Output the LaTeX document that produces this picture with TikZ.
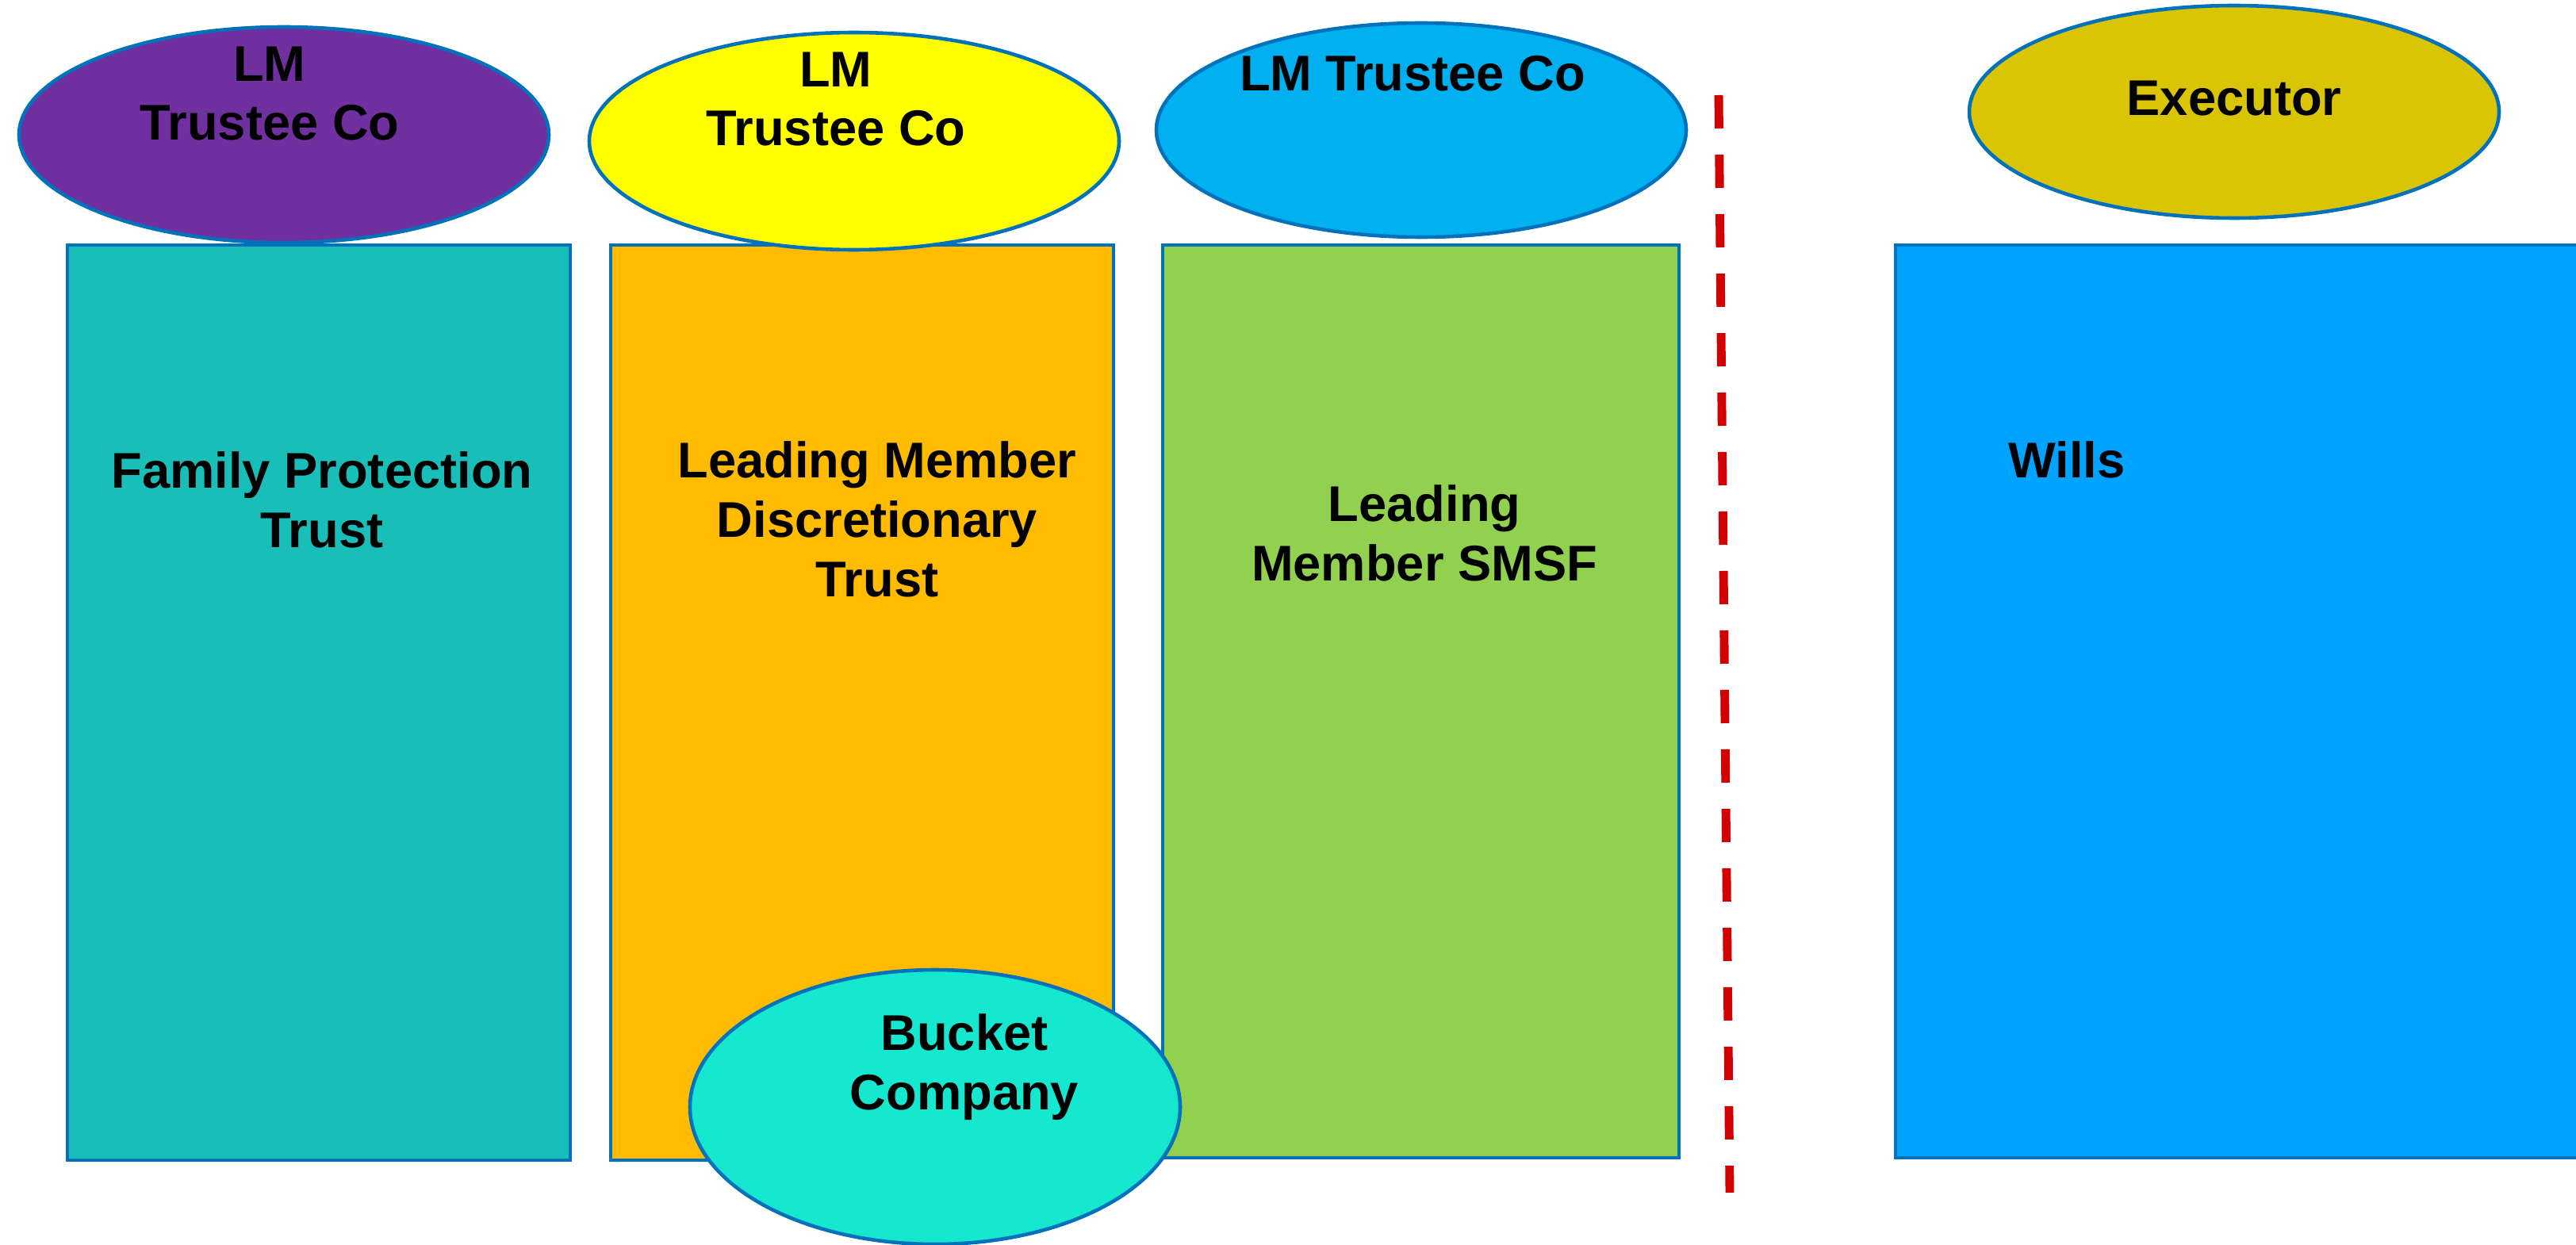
\documentclass[tikz,border=0pt]{standalone}
\usepackage{fontspec}
\setmainfont{Liberation Sans}
\usepackage{tikz}
\usetikzlibrary{shapes.geometric, positioning, calc}

\definecolor{edgeblue}{RGB}{0,114,188}
\definecolor{coPurple}{RGB}{112,48,160}
\definecolor{coYellow}{RGB}{255,255,0}
\definecolor{coSky}{RGB}{0,176,240}
\definecolor{coGold}{RGB}{218,196,6}
\definecolor{coAqua}{RGB}{22,232,208}
\definecolor{fpTeal}{RGB}{25,190,184}
\definecolor{dtOrange}{RGB}{255,187,0}
\definecolor{smsfGreen}{RGB}{146,208,80}
\definecolor{willBlue}{RGB}{0,163,255}
\definecolor{cutRed}{RGB}{210,0,0}

\begin{document}
\begin{tikzpicture}[
        box/.style={draw=edgeblue, line width=1.1pt, anchor=south west, inner sep=0pt},
        co/.style={ellipse, draw=edgeblue, line width=1.3pt, inner sep=0pt},
        lbl/.style={font=\fontsize{18}{21.3}\selectfont\bfseries, align=center, inner sep=0pt}
    ]
        \useasboundingbox (0,0) rectangle (32.48,15.69);

        % the four structures
        \node[box, fill=fpTeal, minimum width=6.34cm, minimum height=11.54cm] (FPT) at (0.83,1.04) {};
        \node[box, fill=dtOrange, minimum width=6.34cm, minimum height=11.54cm] (DT) at (7.68,1.04) {};
        \node[box, fill=smsfGreen, minimum width=6.51cm, minimum height=11.51cm] (SMSF) at (14.64,1.07) {};
        \node[box, fill=willBlue, minimum width=9.40cm, minimum height=11.51cm] (W) at (23.88,1.07) {};

        % trustees on top
        \node[co, fill=coPurple, minimum width=6.68cm, minimum height=2.72cm] (TC1) at (3.58,13.99) {};
        \node[co, fill=coYellow, minimum width=6.68cm, minimum height=2.74cm] (TC2) at (10.77,13.91) {};
        \node[co, fill=coSky, minimum width=6.68cm, minimum height=2.70cm] (TC3) at (17.92,14.05) {};
        \node[co, fill=coGold, minimum width=6.68cm, minimum height=2.68cm] (EX) at (28.17,14.28) {};
        \node[co, fill=coAqua, minimum width=6.18cm, minimum height=3.46cm] (BC) at (11.79,1.73) {};

        % dividing line
        \coordinate (cutTop) at (21.67,14.49);
        \coordinate (cutBot) at (21.81,0.65);
        \draw[cutRed, line width=3.1pt, dash pattern=on 0.42cm off 0.33cm] (cutTop) -- (cutBot);

        % labels
        \node[lbl] (TC1txt) at (3.40,14.51) {LM\\Trustee Co};
        \node[lbl] (TC2txt) at (10.54,14.44) {LM\\Trustee Co};
        \node[lbl] (TC3txt) at (17.81,14.76) {LM Trustee Co};
        \node[lbl] (EXtxt) at (28.17,14.45) {Executor};
        \node[lbl] (BCtxt) at (12.16,2.23) {Bucket\\Company};
        \node[lbl] (FPTtxt) at (4.06,9.39) {Family Protection\\Trust};
        \node[lbl] (DTtxt) at (11.06,9.14) {Leading Member\\Discretionary\\Trust};
        \node[lbl] (SMSFtxt) at (17.96,8.97) {Leading\\Member SMSF};
        \node[lbl] (Wtxt) at (26.06,9.89) {Wills};

    \end{tikzpicture}
\end{document}
